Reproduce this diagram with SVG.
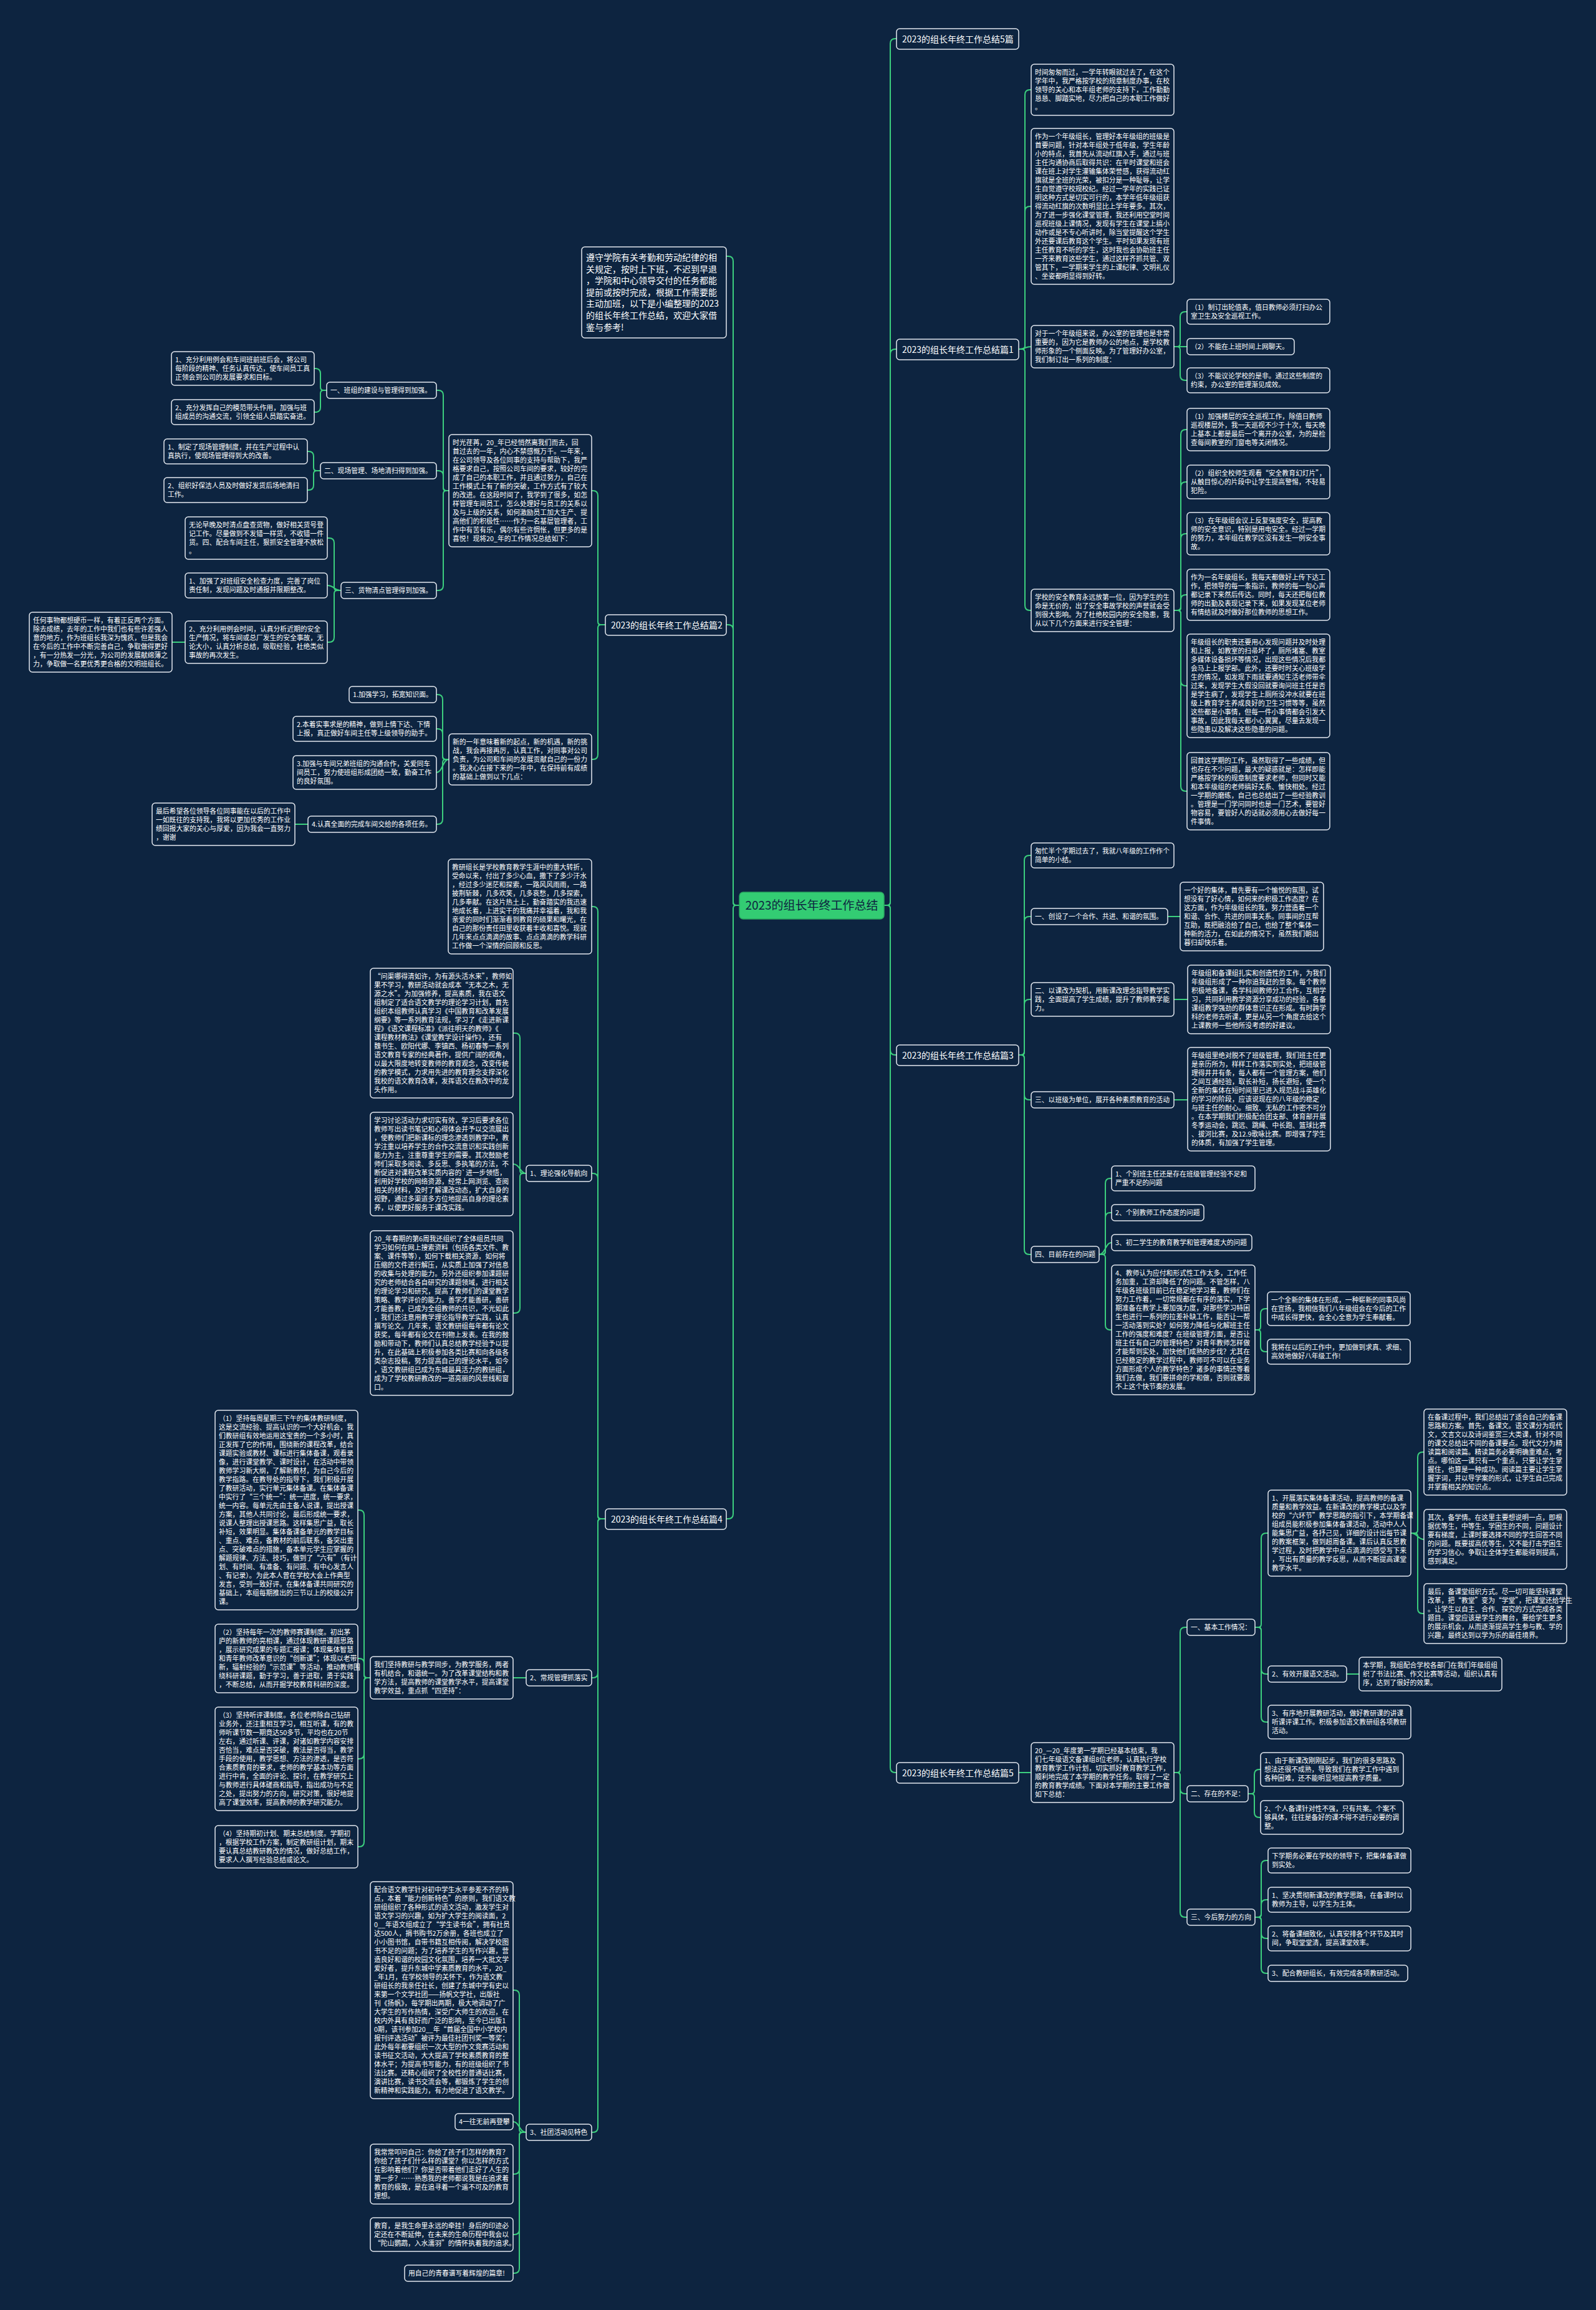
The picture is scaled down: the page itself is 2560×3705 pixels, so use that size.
<svg xmlns="http://www.w3.org/2000/svg" width="2560" height="3705" viewBox="0 0 2560 3705">
<style>
.bg{fill:#0d2440}
.n rect{fill:#0d2440;stroke:#e3e8ef;stroke-width:1.5}
.n text{fill:#ffffff;font-family:"Noto Sans CJK SC","Noto Sans",sans-serif;font-size:10.8px}
.lbl text{font-size:14px}
.c path{fill:none;stroke:#3ccf7e;stroke-width:2}
#center rect{fill:#33cc73;stroke:#2aa860;stroke-width:1.5}
#center text{fill:#0d2440;font-family:"Noto Sans CJK SC","Noto Sans",sans-serif;font-size:19px}
</style>
<rect class="bg" x="0" y="0" width="2560" height="3705"/>
<g class="c" id="connectors">
<path d="M1418 1452 H1423 Q1428 1452 1428 1447 V70 Q1428 62 1436 62 H1438"/>
<path d="M1418 1452 H1423 Q1428 1452 1428 1447 V568 Q1428 560 1436 560 H1438"/>
<path d="M1418 1452 H1423 Q1428 1452 1428 1457 V1684 Q1428 1692 1436 1692 H1438"/>
<path d="M1418 1452 H1423 Q1428 1452 1428 1457 V2835 Q1428 2843 1436 2843 H1438"/>
<path d="M1186 1452 H1181 Q1176 1452 1176 1447 V419 Q1176 411 1168 411 H1165"/>
<path d="M1186 1452 H1181 Q1176 1452 1176 1447 V1010 Q1176 1002 1168 1002 H1165"/>
<path d="M1186 1452 H1181 Q1176 1452 1176 1457 V2428 Q1176 2436 1168 2436 H1165"/>
<path d="M1634 560 H1639 Q1644 560 1644 555 V152 Q1644 144 1652 144 H1654"/>
<path d="M1634 560 H1639 Q1644 560 1644 555 V339 Q1644 331 1652 331 H1654"/>
<path d="M1634 560 C1644 560 1644 556 1654 556"/>
<path d="M1634 560 H1639 Q1644 560 1644 565 V971 Q1644 979 1652 979 H1654"/>
<path d="M1883 556 H1888 Q1893 556 1893 551 V508 Q1893 500 1901 500 H1904"/>
<path d="M1883 556 H1904"/>
<path d="M1883 556 H1888 Q1893 556 1893 561 V602 Q1893 610 1901 610 H1904"/>
<path d="M1883 979 H1889 Q1894 979 1894 974 V697 Q1894 689 1902 689 H1904"/>
<path d="M1883 979 H1889 Q1894 979 1894 974 V781 Q1894 773 1902 773 H1904"/>
<path d="M1883 979 H1889 Q1894 979 1894 974 V864 Q1894 856 1902 856 H1904"/>
<path d="M1883 979 H1889 Q1894 979 1894 974 V962 Q1894 954 1902 954 H1904"/>
<path d="M1883 979 H1889 Q1894 979 1894 984 V1092 Q1894 1100 1902 1100 H1904"/>
<path d="M1883 979 H1889 Q1894 979 1894 984 V1261 Q1894 1269 1902 1269 H1904"/>
<path d="M1634 1692 H1638 Q1643 1692 1643 1687 V1380 Q1643 1372 1651 1372 H1654"/>
<path d="M1634 1692 H1638 Q1643 1692 1643 1687 V1478 Q1643 1470 1651 1470 H1654"/>
<path d="M1634 1692 H1638 Q1643 1692 1643 1687 V1611 Q1643 1603 1651 1603 H1654"/>
<path d="M1634 1692 H1638 Q1643 1692 1643 1697 V1756 Q1643 1764 1651 1764 H1654"/>
<path d="M1634 1692 H1638 Q1643 1692 1643 1697 V2004 Q1643 2012 1651 2012 H1654"/>
<path d="M1873 1470 H1893"/>
<path d="M1883 1603 H1905"/>
<path d="M1883 1764 H1905"/>
<path d="M1763 2012 H1768 Q1773 2012 1773 2007 V1898 Q1773 1890 1781 1890 H1783"/>
<path d="M1763 2012 H1768 Q1773 2012 1773 2007 V1953 Q1773 1945 1781 1945 H1783"/>
<path d="M1763 2012 C1773 2012 1773 1993 1783 1993"/>
<path d="M1763 2012 H1768 Q1773 2012 1773 2017 V2125 Q1773 2133 1781 2133 H1783"/>
<path d="M2013 2133 H2017 Q2022 2133 2022 2128 V2107 Q2022 2099 2030 2099 H2033"/>
<path d="M2013 2133 H2017 Q2022 2133 2022 2138 V2160 Q2022 2168 2030 2168 H2033"/>
<path d="M1634 2843 H1654"/>
<path d="M1883 2843 H1888 Q1893 2843 1893 2838 V2618 Q1893 2610 1901 2610 H1904"/>
<path d="M1883 2843 H1888 Q1893 2843 1893 2848 V2869 Q1893 2877 1901 2877 H1904"/>
<path d="M1883 2843 H1888 Q1893 2843 1893 2848 V3067 Q1893 3075 1901 3075 H1904"/>
<path d="M2013 2610 H2018 Q2023 2610 2023 2605 V2467 Q2023 2459 2031 2459 H2034"/>
<path d="M2013 2610 H2018 Q2023 2610 2023 2615 V2677 Q2023 2685 2031 2685 H2034"/>
<path d="M2013 2610 H2018 Q2023 2610 2023 2615 V2754 Q2023 2762 2031 2762 H2034"/>
<path d="M2263 2459 H2269 Q2274 2459 2274 2454 V2337 Q2274 2329 2282 2329 H2284"/>
<path d="M2263 2459 C2274 2459 2274 2469 2284 2469"/>
<path d="M2263 2459 H2269 Q2274 2459 2274 2464 V2580 Q2274 2588 2282 2588 H2284"/>
<path d="M2160 2685 H2180"/>
<path d="M2002 2877 H2007 Q2012 2877 2012 2872 V2846 Q2012 2838 2020 2838 H2022"/>
<path d="M2002 2877 H2007 Q2012 2877 2012 2882 V2907 Q2012 2915 2020 2915 H2022"/>
<path d="M2013 3075 H2018 Q2023 3075 2023 3070 V2992 Q2023 2984 2031 2984 H2034"/>
<path d="M2013 3075 H2018 Q2023 3075 2023 3070 V3055 Q2023 3047 2031 3047 H2034"/>
<path d="M2013 3075 H2018 Q2023 3075 2023 3080 V3101 Q2023 3109 2031 3109 H2034"/>
<path d="M2013 3075 H2018 Q2023 3075 2023 3080 V3157 Q2023 3165 2031 3165 H2034"/>
<path d="M971 1002 H964 Q959 1002 959 997 V795 Q959 787 951 787 H949"/>
<path d="M971 1002 H964 Q959 1002 959 1007 V1210 Q959 1218 951 1218 H949"/>
<path d="M720 787 H716 Q711 787 711 782 V634 Q711 626 703 626 H700"/>
<path d="M720 787 H716 Q711 787 711 782 V763 Q711 755 703 755 H700"/>
<path d="M720 787 H716 Q711 787 711 792 V939 Q711 947 703 947 H700"/>
<path d="M524 626 H519 Q514 626 514 621 V599 Q514 591 506 591 H504"/>
<path d="M524 626 H519 Q514 626 514 631 V653 Q514 661 506 661 H504"/>
<path d="M514 755 H508 Q503 755 503 750 V732 Q503 724 495 724 H493"/>
<path d="M514 755 H508 Q503 755 503 760 V778 Q503 786 495 786 H493"/>
<path d="M547 947 H541 Q536 947 536 942 V871 Q536 863 528 863 H525"/>
<path d="M547 947 C536 947 536 939 525 939"/>
<path d="M547 947 H541 Q536 947 536 952 V1022 Q536 1030 528 1030 H525"/>
<path d="M297 1030 H276"/>
<path d="M720 1218 H715 Q710 1218 710 1213 V1122 Q710 1114 702 1114 H700"/>
<path d="M720 1218 H715 Q710 1218 710 1213 V1177 Q710 1169 702 1169 H700"/>
<path d="M720 1218 C710 1218 710 1239 700 1239"/>
<path d="M720 1218 H715 Q710 1218 710 1223 V1314 Q710 1322 702 1322 H700"/>
<path d="M494 1322 H473"/>
<path d="M971 2436 H964 Q959 2436 959 2431 V1462 Q959 1454 951 1454 H949"/>
<path d="M971 2436 H964 Q959 2436 959 2431 V1890 Q959 1882 951 1882 H949"/>
<path d="M971 2436 H964 Q959 2436 959 2441 V2683 Q959 2691 951 2691 H949"/>
<path d="M971 2436 H964 Q959 2436 959 2441 V3412 Q959 3420 951 3420 H949"/>
<path d="M844 1882 H839 Q834 1882 834 1877 V1665 Q834 1657 826 1657 H823"/>
<path d="M844 1882 C834 1882 834 1867 823 1867"/>
<path d="M844 1882 H839 Q834 1882 834 1887 V2098 Q834 2106 826 2106 H823"/>
<path d="M844 2691 H823"/>
<path d="M594 2691 H589 Q584 2691 584 2686 V2430 Q584 2422 576 2422 H574"/>
<path d="M594 2691 H589 Q584 2691 584 2686 V2668 Q584 2660 576 2660 H574"/>
<path d="M594 2691 H589 Q584 2691 584 2696 V2813 Q584 2821 576 2821 H574"/>
<path d="M594 2691 H589 Q584 2691 584 2696 V2954 Q584 2962 576 2962 H574"/>
<path d="M844 3420 H838 Q833 3420 833 3415 V3200 Q833 3192 825 3192 H823"/>
<path d="M844 3420 C833 3420 833 3403 823 3403"/>
<path d="M844 3420 H838 Q833 3420 833 3425 V3479 Q833 3487 825 3487 H823"/>
<path d="M844 3420 H838 Q833 3420 833 3425 V3576 Q833 3584 825 3584 H823"/>
<path d="M844 3420 H838 Q833 3420 833 3425 V3638 Q833 3646 825 3646 H823"/>
</g>

<g id="center"><rect x="1186" y="1431" width="232" height="43" rx="6"/><text x="1302" y="1459" text-anchor="middle">2023的组长年终工作总结</text></g>

<g class="n" id="intro"><rect x="933" y="396" width="232" height="146" rx="5"/><text x="940" y="418" style="font-size:14px"><tspan x="940">遵守学院有关考勤和劳动纪律的相</tspan><tspan x="940" dy="18.6">关规定，按时上下班，不迟到早退</tspan><tspan x="940" dy="18.6">，学院和中心领导交付的任务都能</tspan><tspan x="940" dy="18.6">提前或按时完成，根据工作需要能</tspan><tspan x="940" dy="18.6">主动加班，以下是小编整理的2023</tspan><tspan x="940" dy="18.6">的组长年终工作总结，欢迎大家借</tspan><tspan x="940" dy="18.6">鉴与参考!</tspan></text></g>

<g class="n lbl" id="r_title5"><rect x="1438" y="46" width="196" height="33" rx="5"/><text x="1447" y="67.5">2023的组长年终工作总结5篇</text></g>
<g class="n lbl" id="r_p1"><rect x="1438" y="544" width="196" height="33" rx="5"/><text x="1447" y="565.5">2023的组长年终工作总结篇1</text></g>
<g class="n lbl" id="r_p3"><rect x="1438" y="1676" width="196" height="33" rx="5"/><text x="1447" y="1697.5">2023的组长年终工作总结篇3</text></g>
<g class="n lbl" id="r_p5"><rect x="1438" y="2827" width="196" height="33" rx="5"/><text x="1447" y="2848.5">2023的组长年终工作总结篇5</text></g>
<g class="n lbl" id="l_p2"><rect x="971" y="986" width="194" height="33" rx="5"/><text x="980" y="1007.5">2023的组长年终工作总结篇2</text></g>
<g class="n lbl" id="l_p4"><rect x="971" y="2420" width="194" height="33" rx="5"/><text x="980" y="2441.5">2023的组长年终工作总结篇4</text></g>

<g class="n" id="a1"><rect x="1654" y="103" width="229" height="82" rx="5"/><text x="1660" y="120"><tspan x="1660">时间匆匆而过，一学年转眼就过去了，在这个</tspan><tspan x="1660" dy="14">学年中，我严格按学校的规章制度办事，在校</tspan><tspan x="1660" dy="14">领导的关心和本年组老师的支持下，工作勤勤</tspan><tspan x="1660" dy="14">恳恳、脚踏实地，尽力把自己的本职工作做好</tspan><tspan x="1660" dy="14">。</tspan></text></g>
<g class="n" id="a2"><rect x="1654" y="206" width="229" height="250" rx="5"/><text x="1660" y="223"><tspan x="1660">作为一个年级组长，管理好本年级组的班级是</tspan><tspan x="1660" dy="14">首要问题，针对本年组处于低年级，学生年龄</tspan><tspan x="1660" dy="14">小的特点，我首先从流动红旗入手，通过与班</tspan><tspan x="1660" dy="14">主任沟通协商后取得共识：在平时课堂和班会</tspan><tspan x="1660" dy="14">课在班上对学生灌输集体荣誉感，获得流动红</tspan><tspan x="1660" dy="14">旗就是全班的光荣，被扣分是一种耻辱，让学</tspan><tspan x="1660" dy="14">生自觉遵守校规校纪。经过一学年的实践已证</tspan><tspan x="1660" dy="14">明这种方式是切实可行的，本学年低年级组获</tspan><tspan x="1660" dy="14">得流动红旗的次数明显比上学年要多。其次，</tspan><tspan x="1660" dy="14">为了进一步强化课堂管理，我还利用空堂时间</tspan><tspan x="1660" dy="14">巡视班级上课情况，发现有学生在课堂上搞小</tspan><tspan x="1660" dy="14">动作或是不专心听讲时，除当堂提醒这个学生</tspan><tspan x="1660" dy="14">外还要课后教育这个学生。平时如果发现有班</tspan><tspan x="1660" dy="14">主任教育不听的学生，这时我也会协助班主任</tspan><tspan x="1660" dy="14">一齐来教育这些学生，通过这样齐抓共管、双</tspan><tspan x="1660" dy="14">管其下，一学期来学生的上课纪律、文明礼仪</tspan><tspan x="1660" dy="14">、坐姿都明显得到好转。</tspan></text></g>
<g class="n" id="b"><rect x="1654" y="522" width="229" height="68" rx="5"/><text x="1660" y="539"><tspan x="1660">对于一个年级组来说，办公室的管理也是非常</tspan><tspan x="1660" dy="14">重要的，因为它是教师办公的地点，是学校教</tspan><tspan x="1660" dy="14">师形象的一个侧面反映。为了管理好办公室，</tspan><tspan x="1660" dy="14">我们制订出一系列的制度：</tspan></text></g>
<g class="n" id="b1"><rect x="1904" y="480" width="229" height="40" rx="5"/><text x="1910" y="497"><tspan x="1910">（1）制订出轮值表，值日教师必须打扫办公</tspan><tspan x="1910" dy="14">室卫生及安全巡视工作。</tspan></text></g>
<g class="n" id="b2"><rect x="1904" y="543" width="172" height="26" rx="5"/><text x="1910" y="560">（2）不能在上班时间上网聊天。</text></g>
<g class="n" id="b3"><rect x="1904" y="590" width="229" height="40" rx="5"/><text x="1910" y="607"><tspan x="1910">（3）不能议论学校的是非。通过这些制度的</tspan><tspan x="1910" dy="14">约束，办公室的管理渐见成效。</tspan></text></g>
<g class="n" id="d"><rect x="1654" y="945" width="229" height="68" rx="5"/><text x="1660" y="962"><tspan x="1660">学校的安全教育永远放第一位，因为学生的生</tspan><tspan x="1660" dy="14">命是无价的，出了安全事故学校的声誉就会受</tspan><tspan x="1660" dy="14">到很大影响。为了杜绝校园内的安全隐患，我</tspan><tspan x="1660" dy="14">从以下几个方面来进行安全管理：</tspan></text></g>
<g class="n" id="d1"><rect x="1904" y="655" width="229" height="68" rx="5"/><text x="1910" y="672"><tspan x="1910">（1）加强楼层的安全巡视工作，除值日教师</tspan><tspan x="1910" dy="14">巡视楼层外，我一天巡视不少于十次，每天晚</tspan><tspan x="1910" dy="14">上基本上都是最后一个离开办公室，为的是检</tspan><tspan x="1910" dy="14">查每间教室的门窗电等关闭情况。</tspan></text></g>
<g class="n" id="d2"><rect x="1904" y="746" width="229" height="54" rx="5"/><text x="1910" y="763"><tspan x="1910">（2）组织全校师生观看“安全教育幻灯片”，</tspan><tspan x="1910" dy="14">从触目惊心的片段中让学生提高警惕，不轻易</tspan><tspan x="1910" dy="14">犯险。</tspan></text></g>
<g class="n" id="d3"><rect x="1904" y="822" width="229" height="68" rx="5"/><text x="1910" y="839"><tspan x="1910">（3）在年级组会议上反复强度安全，提高教</tspan><tspan x="1910" dy="14">师的安全意识，特别是用电安全。经过一学期</tspan><tspan x="1910" dy="14">的努力，本年组在教学区没有发生一例安全事</tspan><tspan x="1910" dy="14">故。</tspan></text></g>
<g class="n" id="d4"><rect x="1904" y="913" width="229" height="82" rx="5"/><text x="1910" y="930"><tspan x="1910">作为一名年级组长，我每天都做好上传下达工</tspan><tspan x="1910" dy="14">作，把领导的每一条指示，教师的每一句心声</tspan><tspan x="1910" dy="14">都记录下来然后传达。同时，每天还把每位教</tspan><tspan x="1910" dy="14">师的出勤及表现记录下来，如果发现某位老师</tspan><tspan x="1910" dy="14">有情结就及时做好那位教师的思想工作。</tspan></text></g>
<g class="n" id="d5"><rect x="1904" y="1017" width="229" height="166" rx="5"/><text x="1910" y="1034"><tspan x="1910">年级组长的职责还要用心发现问题并及时处理</tspan><tspan x="1910" dy="14">和上报，如教室的扫帚坏了，厕所堵塞、教室</tspan><tspan x="1910" dy="14">多媒体设备损坏等情况，出现这些情况后我都</tspan><tspan x="1910" dy="14">会马上上报学部。此外，还要时时关心班级学</tspan><tspan x="1910" dy="14">生的情况，如发现下雨就要通知生活老师带伞</tspan><tspan x="1910" dy="14">过来，发现学生大假没回就要询问班主任是否</tspan><tspan x="1910" dy="14">是学生病了，发现学生上厕所没冲水就要在班</tspan><tspan x="1910" dy="14">级上教育学生养成良好的卫生习惯等等，虽然</tspan><tspan x="1910" dy="14">这些都是小事情，但每一件小事情都会引发大</tspan><tspan x="1910" dy="14">事故，因此我每天都小心翼翼，尽量去发现一</tspan><tspan x="1910" dy="14">些隐患以及解决这些隐患的问题。</tspan></text></g>
<g class="n" id="d6"><rect x="1904" y="1207" width="229" height="124" rx="5"/><text x="1910" y="1224"><tspan x="1910">回首这学期的工作，虽然取得了一些成绩，但</tspan><tspan x="1910" dy="14">也存在不少问题，最大的疑惑就是：怎样即能</tspan><tspan x="1910" dy="14">严格按学校的规章制度要求老师，但同时又能</tspan><tspan x="1910" dy="14">和本年级组的老师搞好关系、愉快相处。经过</tspan><tspan x="1910" dy="14">一学期的磨练，自己也总结出了一些经验教训</tspan><tspan x="1910" dy="14">。管理是一门学问同时也是一门艺术，要管好</tspan><tspan x="1910" dy="14">物容易，要管好人的话就必须用心去做好每一</tspan><tspan x="1910" dy="14">件事情。</tspan></text></g>

<g class="n" id="e0"><rect x="1654" y="1352" width="229" height="40" rx="5"/><text x="1660" y="1369"><tspan x="1660">匆忙半个学期过去了，我就八年级的工作作个</tspan><tspan x="1660" dy="14">简单的小结。</tspan></text></g>
<g class="n" id="e1"><rect x="1654" y="1457" width="219" height="26" rx="5"/><text x="1660" y="1474">一、创设了一个合作、共进、和谐的氛围。</text></g>
<g class="n" id="e1a"><rect x="1893" y="1415" width="230" height="110" rx="5"/><text x="1899" y="1432"><tspan x="1899">一个好的集体，首先要有一个愉悦的氛围，试</tspan><tspan x="1899" dy="14">想没有了好心情，如何来的积极工作态度？在</tspan><tspan x="1899" dy="14">这方面，作为年级组长的我，努力营造着一个</tspan><tspan x="1899" dy="14">和谐、合作、共进的同事关系。同事间的互帮</tspan><tspan x="1899" dy="14">互助，既把融洽给了自己，也给了整个集体一</tspan><tspan x="1899" dy="14">种新的活力，在如此的情况下，虽然我们朝出</tspan><tspan x="1899" dy="14">暮归却快乐着。</tspan></text></g>
<g class="n" id="e2"><rect x="1654" y="1576" width="229" height="54" rx="5"/><text x="1660" y="1593"><tspan x="1660">二、以课改为契机，用新课改理念指导教学实</tspan><tspan x="1660" dy="14">践，全面提高了学生成绩，提升了教师教学能</tspan><tspan x="1660" dy="14">力。</tspan></text></g>
<g class="n" id="e2a"><rect x="1905" y="1548" width="229" height="110" rx="5"/><text x="1911" y="1565"><tspan x="1911">年级组和备课组扎实和创造性的工作，为我们</tspan><tspan x="1911" dy="14">年级组形成了一种你追我赶的景象。每个教师</tspan><tspan x="1911" dy="14">积极地备课，各学科间教师分工合作，互相学</tspan><tspan x="1911" dy="14">习，共同利用教学资源分享成功的经验，各备</tspan><tspan x="1911" dy="14">课组教学强劲的群体意识正在形成。有时跨学</tspan><tspan x="1911" dy="14">科的老师去听课，更是从另一个角度去给这个</tspan><tspan x="1911" dy="14">上课教师一些他所没考虑的好建议。</tspan></text></g>
<g class="n" id="e3"><rect x="1654" y="1751" width="229" height="26" rx="5"/><text x="1660" y="1768">三、以班级为单位，展开各种素质教育的活动</text></g>
<g class="n" id="e3a"><rect x="1905" y="1680" width="229" height="166" rx="5"/><text x="1911" y="1697"><tspan x="1911">年级组里绝对脱不了班级管理，我们班主任更</tspan><tspan x="1911" dy="14">是亲历所为，样样工作落实到实处，把班级管</tspan><tspan x="1911" dy="14">理得井井有条，每人都有一个管理方案，他们</tspan><tspan x="1911" dy="14">之间互通经验，取长补短，扬长避短，使一个</tspan><tspan x="1911" dy="14">全新的集体在短时间里已进入规范战斗英雄化</tspan><tspan x="1911" dy="14">的学习的阶段，应该说现在的八年级的稳定</tspan><tspan x="1911" dy="14">与班主任的耐心。细致、无私的工作密不可分</tspan><tspan x="1911" dy="14">。在本学期我们积极配合团支部、体育部开展</tspan><tspan x="1911" dy="14">冬季运动会，跳远、跳绳、中长跑、篮球比赛</tspan><tspan x="1911" dy="14">、拔河比赛，及12.9歌咏比赛。即增强了学生</tspan><tspan x="1911" dy="14">的体质，有加强了学生管理。</tspan></text></g>
<g class="n" id="e4"><rect x="1654" y="1999" width="109" height="26" rx="5"/><text x="1660" y="2016">四、目前存在的问题</text></g>
<g class="n" id="e4a"><rect x="1783" y="1870" width="230" height="40" rx="5"/><text x="1789" y="1887"><tspan x="1789">1、个别班主任还是存在班级管理经验不足和</tspan><tspan x="1789" dy="14">严重不足的问题</tspan></text></g>
<g class="n" id="e4b"><rect x="1783" y="1932" width="148" height="26" rx="5"/><text x="1789" y="1949">2、个别教师工作态度的问题</text></g>
<g class="n" id="e4c"><rect x="1783" y="1980" width="225" height="26" rx="5"/><text x="1789" y="1997">3、初二学生的教育教学和管理难度大的问题</text></g>
<g class="n" id="e4d"><rect x="1783" y="2029" width="230" height="208" rx="5"/><text x="1789" y="2046"><tspan x="1789">4、教师认为应付和形式性工作太多，工作任</tspan><tspan x="1789" dy="14">务加重，工资却降低了的问题。不管怎样，八</tspan><tspan x="1789" dy="14">年级各班级目前已在稳定地学习着，教师们在</tspan><tspan x="1789" dy="14">努力工作着，一切常规都在有序的落实，下学</tspan><tspan x="1789" dy="14">期准备在教学上要加强力度，对那些学习特困</tspan><tspan x="1789" dy="14">生也进行一系列的拉差补缺工作，能否让一帮</tspan><tspan x="1789" dy="14">一活动落到实处？如何努力降低与化解班主任</tspan><tspan x="1789" dy="14">工作的强度和难度？在班级管理方面，是否让</tspan><tspan x="1789" dy="14">班主任有自己的管理特色？对青年教师怎样做</tspan><tspan x="1789" dy="14">才能帮到实处，加快他们成熟的步伐？尤其在</tspan><tspan x="1789" dy="14">已经稳定的教学过程中，教师可不可以在业务</tspan><tspan x="1789" dy="14">方面形成个人的教学特色？诸多的事情还等着</tspan><tspan x="1789" dy="14">我们去做，我们要拼命的学和做，否则就要跟</tspan><tspan x="1789" dy="14">不上这个快节奏的发展。</tspan></text></g>
<g class="n" id="e4d1"><rect x="2033" y="2072" width="229" height="54" rx="5"/><text x="2039" y="2089"><tspan x="2039">一个全新的集体在形成，一种崭新的同事风尚</tspan><tspan x="2039" dy="14">在宣扬，我相信我们八年级组会在今后的工作</tspan><tspan x="2039" dy="14">中成长得更快，会全心全意为学生奉献着。</tspan></text></g>
<g class="n" id="e4d2"><rect x="2033" y="2148" width="229" height="40" rx="5"/><text x="2039" y="2165"><tspan x="2039">我将在以后的工作中，更加做到求真、求细、</tspan><tspan x="2039" dy="14">高效地做好八年级工作!</tspan></text></g>

<g class="n" id="f"><rect x="1654" y="2795" width="229" height="96" rx="5"/><text x="1660" y="2812"><tspan x="1660">20_—20_年度第一学期已经基本结束，我</tspan><tspan x="1660" dy="14">们七年级语文备课组8位老师，认真执行学校</tspan><tspan x="1660" dy="14">教育教学工作计划，切实抓好教育教学工作，</tspan><tspan x="1660" dy="14">顺利地完成了本学期的教学任务。取得了一定</tspan><tspan x="1660" dy="14">的教育教学成绩。下面对本学期的主要工作做</tspan><tspan x="1660" dy="14">如下总结：</tspan></text></g>
<g class="n" id="g1"><rect x="1904" y="2597" width="109" height="26" rx="5"/><text x="1910" y="2614">一、基本工作情况：</text></g>
<g class="n" id="g1a"><rect x="2034" y="2390" width="229" height="138" rx="5"/><text x="2040" y="2407"><tspan x="2040">1、开展落实集体备课活动，提高教师的备课</tspan><tspan x="2040" dy="14">质量和教学效益。在新课改的教学模式以及学</tspan><tspan x="2040" dy="14">校的“六环节”教学思路的指引下，本学期备课</tspan><tspan x="2040" dy="14">组成员能积极参加集体备课活动，活动中人人</tspan><tspan x="2040" dy="14">能集思广益，各抒己见，详细的设计出每节课</tspan><tspan x="2040" dy="14">的教案框架，做到超周备课。课后认真反思教</tspan><tspan x="2040" dy="14">学过程，及时把教学中点点滴滴的感受写下来</tspan><tspan x="2040" dy="14">，写出有质量的教学反思，从而不断提高课堂</tspan><tspan x="2040" dy="14">教学水平。</tspan></text></g>
<g class="n" id="h1"><rect x="2284" y="2260" width="229" height="138" rx="5"/><text x="2290" y="2277"><tspan x="2290">在备课过程中，我们总结出了适合自己的备课</tspan><tspan x="2290" dy="14">思路和方案。首先，备课文。语文课分为现代</tspan><tspan x="2290" dy="14">文，文言文以及诗词鉴赏三大类课，针对不同</tspan><tspan x="2290" dy="14">的课文总结出不同的备课要点。现代文分为精</tspan><tspan x="2290" dy="14">读篇和阅读篇。精读篇务必要明确重难点，考</tspan><tspan x="2290" dy="14">点。哪怕这一课只有一个重点，只要让学生掌</tspan><tspan x="2290" dy="14">握住，也算是一种成功。阅读篇主要让学生掌</tspan><tspan x="2290" dy="14">握字词，并以导学案的形式，让学生自己完成</tspan><tspan x="2290" dy="14">并掌握相关的知识点。</tspan></text></g>
<g class="n" id="h2"><rect x="2284" y="2421" width="229" height="96" rx="5"/><text x="2290" y="2438"><tspan x="2290">其次，备学情。在这里主要想说明一点，即根</tspan><tspan x="2290" dy="14">据优等生，中等生，学困生的不同，问题设计</tspan><tspan x="2290" dy="14">要有梯度，上课时要选择不同的学生回答不同</tspan><tspan x="2290" dy="14">的问题。既要拔高优等生，又不能打击学困生</tspan><tspan x="2290" dy="14">的学习信心。争取让全体学生都能得到提高，</tspan><tspan x="2290" dy="14">感到满足。</tspan></text></g>
<g class="n" id="h3"><rect x="2284" y="2540" width="229" height="96" rx="5"/><text x="2290" y="2557"><tspan x="2290">最后，备课堂组织方式。尽一切可能坚持课堂</tspan><tspan x="2290" dy="14">改革，把“教堂”变为“学堂”，把课堂还给学生</tspan><tspan x="2290" dy="14">。让学生以自主、合作、探究的方式完成各类</tspan><tspan x="2290" dy="14">题目。课堂应该是学生的舞台，要给学生更多</tspan><tspan x="2290" dy="14">的展示机会，从而逐渐提高学生参与教、学的</tspan><tspan x="2290" dy="14">兴趣，最终达到以学为乐的最佳境界。</tspan></text></g>
<g class="n" id="g1b"><rect x="2034" y="2672" width="126" height="26" rx="5"/><text x="2040" y="2689">2、有效开展语文活动。</text></g>
<g class="n" id="g1b1"><rect x="2180" y="2658" width="229" height="54" rx="5"/><text x="2186" y="2675"><tspan x="2186">本学期，我组配合学校各部门在我们年级组组</tspan><tspan x="2186" dy="14">织了书法比赛、作文比赛等活动，组织认真有</tspan><tspan x="2186" dy="14">序，达到了很好的效果。</tspan></text></g>
<g class="n" id="g1c"><rect x="2034" y="2735" width="229" height="54" rx="5"/><text x="2040" y="2752"><tspan x="2040">3、有序地开展教研活动，做好教研课的讲课</tspan><tspan x="2040" dy="14">听课评课工作。积极参加语文教研组各项教研</tspan><tspan x="2040" dy="14">活动。</tspan></text></g>
<g class="n" id="g2"><rect x="1904" y="2864" width="98" height="26" rx="5"/><text x="1910" y="2881">二、存在的不足：</text></g>
<g class="n" id="g2a"><rect x="2022" y="2811" width="229" height="54" rx="5"/><text x="2028" y="2828"><tspan x="2028">1、由于新课改刚刚起步，我们的很多思路及</tspan><tspan x="2028" dy="14">想法还很不成熟，导致我们在教学工作中遇到</tspan><tspan x="2028" dy="14">各种困难，还不能明显地提高教学质量。</tspan></text></g>
<g class="n" id="g2b"><rect x="2022" y="2888" width="229" height="54" rx="5"/><text x="2028" y="2905"><tspan x="2028">2、个人备课针对性不强，只有共案。个案不</tspan><tspan x="2028" dy="14">够具体，往往是备好的课不得不进行必要的调</tspan><tspan x="2028" dy="14">整。</tspan></text></g>
<g class="n" id="g3"><rect x="1904" y="3062" width="109" height="26" rx="5"/><text x="1910" y="3079">三、今后努力的方向</text></g>
<g class="n" id="g3a"><rect x="2034" y="2964" width="229" height="40" rx="5"/><text x="2040" y="2981"><tspan x="2040">下学期务必要在学校的领导下，把集体备课做</tspan><tspan x="2040" dy="14">到实处。</tspan></text></g>
<g class="n" id="g3b"><rect x="2034" y="3027" width="229" height="40" rx="5"/><text x="2040" y="3044"><tspan x="2040">1、坚决贯彻新课改的教学思路，在备课时以</tspan><tspan x="2040" dy="14">教师为主导，以学生为主体。</tspan></text></g>
<g class="n" id="g3c"><rect x="2034" y="3089" width="229" height="40" rx="5"/><text x="2040" y="3106"><tspan x="2040">2、将备课细致化，认真安排各个环节及其时</tspan><tspan x="2040" dy="14">间，争取堂堂清，提高课堂效率。</tspan></text></g>
<g class="n" id="g3d"><rect x="2034" y="3152" width="224" height="26" rx="5"/><text x="2040" y="3169">3、配合教研组长，有效完成各项教研活动。</text></g>

<g class="n" id="i1"><rect x="720" y="697" width="229" height="180" rx="5"/><text x="726" y="714"><tspan x="726">时光荏苒，20_年已经悄然离我们而去，回</tspan><tspan x="726" dy="14">首过去的一年，内心不禁感慨万千。一年来，</tspan><tspan x="726" dy="14">在公司领导及各位同事的支持与帮助下，我严</tspan><tspan x="726" dy="14">格要求自己，按照公司车间的要求，较好的完</tspan><tspan x="726" dy="14">成了自己的本职工作，并且通过努力，自己在</tspan><tspan x="726" dy="14">工作模式上有了新的突破，工作方式有了较大</tspan><tspan x="726" dy="14">的改进。在这段时间了，我学到了很多，如怎</tspan><tspan x="726" dy="14">样管理车间员工，怎么处理好与员工的关系以</tspan><tspan x="726" dy="14">及与上级的关系，如何激励员工加大生产、提</tspan><tspan x="726" dy="14">高他们的积极性……作为一名基层管理者，工</tspan><tspan x="726" dy="14">作中有苦有乐，偶尔有些许惆怅，但更多的是</tspan><tspan x="726" dy="14">喜悦！现将20_年的工作情况总结如下：</tspan></text></g>
<g class="n" id="j1"><rect x="524" y="613" width="176" height="26" rx="5"/><text x="530" y="630">一、班组的建设与管理得到加强。</text></g>
<g class="n" id="j1a"><rect x="275" y="564" width="229" height="54" rx="5"/><text x="281" y="581"><tspan x="281">1、充分利用例会和车间班前班后会，将公司</tspan><tspan x="281" dy="14">每阶段的精神、任务认真传达，使车间员工真</tspan><tspan x="281" dy="14">正领会到公司的发展要求和目标。</tspan></text></g>
<g class="n" id="j1b"><rect x="275" y="641" width="229" height="40" rx="5"/><text x="281" y="658"><tspan x="281">2、充分发挥自己的模范带头作用，加强与班</tspan><tspan x="281" dy="14">组成员的沟通交流，引领全组人员踏实奋进。</tspan></text></g>
<g class="n" id="j2"><rect x="514" y="742" width="186" height="26" rx="5"/><text x="520" y="759">二、现场管理、场地清扫得到加强。</text></g>
<g class="n" id="j2a"><rect x="263" y="704" width="230" height="40" rx="5"/><text x="269" y="721"><tspan x="269">1、制定了现场管理制度，并在生产过程中认</tspan><tspan x="269" dy="14">真执行，使现场管理得到大的改善。</tspan></text></g>
<g class="n" id="j2b"><rect x="263" y="766" width="230" height="40" rx="5"/><text x="269" y="783"><tspan x="269">2、组织好保洁人员及时做好发货后场地清扫</tspan><tspan x="269" dy="14">工作。</tspan></text></g>
<g class="n" id="j3"><rect x="547" y="934" width="153" height="26" rx="5"/><text x="553" y="951">三、货物清点管理得到加强。</text></g>
<g class="n" id="j3a"><rect x="297" y="829" width="228" height="68" rx="5"/><text x="303" y="846"><tspan x="303">无论早晚及时清点盘查货物，做好相关货号登</tspan><tspan x="303" dy="14">记工作。尽量做到不发错一样货，不收错一件</tspan><tspan x="303" dy="14">货。四、配合车间主任，狠抓安全管理不放松</tspan><tspan x="303" dy="14">。</tspan></text></g>
<g class="n" id="j3b"><rect x="297" y="919" width="228" height="40" rx="5"/><text x="303" y="936"><tspan x="303">1、加强了对班组安全检查力度，完善了岗位</tspan><tspan x="303" dy="14">责任制，发现问题及时通报并限期整改。</tspan></text></g>
<g class="n" id="j3c"><rect x="297" y="996" width="228" height="68" rx="5"/><text x="303" y="1013"><tspan x="303">2、充分利用例会时间，认真分析近期的安全</tspan><tspan x="303" dy="14">生产情况，将车间或总厂发生的安全事故，无</tspan><tspan x="303" dy="14">论大小，认真分析总结，吸取经验，杜绝类似</tspan><tspan x="303" dy="14">事故的再次发生。</tspan></text></g>
<g class="n" id="j3c1"><rect x="47" y="982" width="229" height="96" rx="5"/><text x="53" y="999"><tspan x="53">任何事物都想硬币一样，有着正反两个方面。</tspan><tspan x="53" dy="14">除去成绩，去年的工作中我们也有些许差强人</tspan><tspan x="53" dy="14">意的地方，作为班组长我深为愧疚，但是我会</tspan><tspan x="53" dy="14">在今后的工作中不断完善自己，争取做得更好</tspan><tspan x="53" dy="14">，有一分热发一分光，为公司的发展献绵薄之</tspan><tspan x="53" dy="14">力，争取做一名更优秀更合格的文明班组长。</tspan></text></g>
<g class="n" id="i2"><rect x="720" y="1177" width="229" height="82" rx="5"/><text x="726" y="1194"><tspan x="726">新的一年意味着新的起点，新的机遇，新的挑</tspan><tspan x="726" dy="14">战，我会再接再厉，认真工作，对同事对公司</tspan><tspan x="726" dy="14">负责，为公司和车间的发展贡献自己的一份力</tspan><tspan x="726" dy="14">。我决心在接下来的一年中，在保持前有成绩</tspan><tspan x="726" dy="14">的基础上做到以下几点：</tspan></text></g>
<g class="n" id="k1"><rect x="560" y="1101" width="140" height="26" rx="5"/><text x="566" y="1118">1.加强学习，拓宽知识面。</text></g>
<g class="n" id="k2"><rect x="470" y="1149" width="230" height="40" rx="5"/><text x="476" y="1166"><tspan x="476">2.本着实事求是的精神，做到上情下达、下情</tspan><tspan x="476" dy="14">上报，真正做好车间主任等上级领导的助手。</tspan></text></g>
<g class="n" id="k3"><rect x="470" y="1212" width="230" height="54" rx="5"/><text x="476" y="1229"><tspan x="476">3.加强与车间兄弟班组的沟通合作，关爱同车</tspan><tspan x="476" dy="14">间员工，努力使班组形成团结一致，勤奋工作</tspan><tspan x="476" dy="14">的良好氛围。</tspan></text></g>
<g class="n" id="k4"><rect x="494" y="1309" width="206" height="26" rx="5"/><text x="500" y="1326">4.认真全面的完成车间交给的各项任务。</text></g>
<g class="n" id="k4a"><rect x="244" y="1288" width="229" height="68" rx="5"/><text x="250" y="1305"><tspan x="250">最后希望各位领导各位同事能在以后的工作中</tspan><tspan x="250" dy="14">一如既往的支持我，我将以更加优秀的工作业</tspan><tspan x="250" dy="14">绩回报大家的关心与厚爱，因为我会一直努力</tspan><tspan x="250" dy="14">，谢谢</tspan></text></g>

<g class="n" id="m0"><rect x="719" y="1378" width="230" height="152" rx="5"/><text x="725" y="1395"><tspan x="725">教研组长是学校教育教学生涯中的重大转折，</tspan><tspan x="725" dy="14">受命以来，付出了多少心血，撒下了多少汗水</tspan><tspan x="725" dy="14">，经过多少迷茫和探索，一路风风雨雨，一路</tspan><tspan x="725" dy="14">披荆斩棘，几多欢笑，几多哀愁，几多探索，</tspan><tspan x="725" dy="14">几多奉献。在这片热土上，勤奋踏实的我迅速</tspan><tspan x="725" dy="14">地成长着，上进实干的我痛并幸福着，我和我</tspan><tspan x="725" dy="14">亲爱的同时们渐渐看到教育的硕果和曙光，在</tspan><tspan x="725" dy="14">自己的那份责任田里收获着丰收和喜悦。现就</tspan><tspan x="725" dy="14">几年来点点滴滴的故事、点点滴滴的教学科研</tspan><tspan x="725" dy="14">工作做一个深情的回顾和反思。</tspan></text></g>
<g class="n" id="m1"><rect x="844" y="1869" width="105" height="26" rx="5"/><text x="850" y="1886">1、理论强化导航向</text></g>
<g class="n" id="n1"><rect x="594" y="1553" width="229" height="208" rx="5"/><text x="600" y="1570"><tspan x="600">“问渠哪得清如许，为有源头活水来”，教师如</tspan><tspan x="600" dy="14">果不学习，教研活动就会成本“无本之木，无</tspan><tspan x="600" dy="14">源之水”。为加强修养，提高素质，我在语文</tspan><tspan x="600" dy="14">组制定了适合语文教学的理论学习计划，首先</tspan><tspan x="600" dy="14">组织本组教师认真学习《中国教育和改革发展</tspan><tspan x="600" dy="14">纲要》等一系列教育法规，学习了《走进新课</tspan><tspan x="600" dy="14">程》《语文课程标准》《派往明天的教师》《</tspan><tspan x="600" dy="14">课程教材教法》《课堂教学设计操作》，还有</tspan><tspan x="600" dy="14">魏书生、欧阳代娜、李镇西、杨初春等一系列</tspan><tspan x="600" dy="14">语文教育专家的经典著作，提供广阔的视角，</tspan><tspan x="600" dy="14">以最大限度地转变教师的教育观念，改变传统</tspan><tspan x="600" dy="14">的教学模式，力求用先进的教育理念支撑深化</tspan><tspan x="600" dy="14">我校的语文教育改革，发挥语文在教改中的龙</tspan><tspan x="600" dy="14">头作用。</tspan></text></g>
<g class="n" id="n2"><rect x="594" y="1784" width="229" height="166" rx="5"/><text x="600" y="1801"><tspan x="600">学习讨论活动力求切实有效，学习后要求各位</tspan><tspan x="600" dy="14">教师写出读书笔记和心得体会并予以交流展出</tspan><tspan x="600" dy="14">，使教师们把新课标的理念渗透到教学中，教</tspan><tspan x="600" dy="14">学注重以培养学生的合作交流意识和实践创新</tspan><tspan x="600" dy="14">能力为主，注重尊重学生的需要。其次鼓励老</tspan><tspan x="600" dy="14">师们采取多阅读、多反思、多执笔的方法，不</tspan><tspan x="600" dy="14">断促进对课程改革实质内容的`进一步领悟，</tspan><tspan x="600" dy="14">利用好学校的网络资源，经常上网浏览、查阅</tspan><tspan x="600" dy="14">相关的材料，及时了解课改动态，扩大自身的</tspan><tspan x="600" dy="14">视野，通过多渠道多方位地提高自身的理论素</tspan><tspan x="600" dy="14">养，以便更好服务于课改实践。</tspan></text></g>
<g class="n" id="n3"><rect x="594" y="1974" width="229" height="264" rx="5"/><text x="600" y="1991"><tspan x="600">20_年春期的第6周我还组织了全体组员共同</tspan><tspan x="600" dy="14">学习如何在网上搜索资料（包括各类文件、教</tspan><tspan x="600" dy="14">案、课件等等），如何下载相关资源，如何将</tspan><tspan x="600" dy="14">压缩的文件进行解压，从实质上加强了对信息</tspan><tspan x="600" dy="14">的收集与处理的能力。另外还组织参加课题研</tspan><tspan x="600" dy="14">究的老师结合各自研究的课题领域，进行相关</tspan><tspan x="600" dy="14">的理论学习和研究，提高了教师们的课堂教学</tspan><tspan x="600" dy="14">策略、教学评价的能力。善学才能善研，善研</tspan><tspan x="600" dy="14">才能善教，已成为全组教师的共识，不光如此</tspan><tspan x="600" dy="14">，我们还注意用教学理论指导教学实践，认真</tspan><tspan x="600" dy="14">撰写论文。几年来，语文教研组每年都有论文</tspan><tspan x="600" dy="14">获奖，每年都有论文在刊物上发表。在我的鼓</tspan><tspan x="600" dy="14">励和带动下，教师们认真总结教学经验予以提</tspan><tspan x="600" dy="14">升，在此基础上积极参加各类比赛和向各级各</tspan><tspan x="600" dy="14">类杂志投稿，努力提高自己的理论水平，如今</tspan><tspan x="600" dy="14">，语文教研组已成为东城最具活力的教研组，</tspan><tspan x="600" dy="14">成为了学校教研教改的一道亮丽的风景线和窗</tspan><tspan x="600" dy="14">口。</tspan></text></g>
<g class="n" id="m2"><rect x="844" y="2678" width="105" height="26" rx="5"/><text x="850" y="2695">2、常规管理抓落实</text></g>
<g class="n" id="o"><rect x="594" y="2657" width="229" height="68" rx="5"/><text x="600" y="2674"><tspan x="600">我们坚持教研与教学同步，为教学服务，两者</tspan><tspan x="600" dy="14">有机结合，和谐统一。为了改革课堂结构和教</tspan><tspan x="600" dy="14">学方法，提高教师的课堂教学水平，提高课堂</tspan><tspan x="600" dy="14">教学效益，重点抓“四坚持”：</tspan></text></g>
<g class="n" id="p1"><rect x="345" y="2262" width="229" height="320" rx="5"/><text x="351" y="2279"><tspan x="351">（1）坚持每周星期三下午的集体教研制度，</tspan><tspan x="351" dy="14">这是交流经验、提高认识的一个大好机会，我</tspan><tspan x="351" dy="14">们教研组有效地运用这宝贵的一个多小时，真</tspan><tspan x="351" dy="14">正发挥了它的作用，围绕新的课程改革，结合</tspan><tspan x="351" dy="14">课题实验或教材、课标进行集体备课，观看录</tspan><tspan x="351" dy="14">像，进行课堂教学、课时设计，在活动中带领</tspan><tspan x="351" dy="14">教师学习新大纲，了解新教材，为自己今后的</tspan><tspan x="351" dy="14">教学指路。在教导处的指导下，我们积极开展</tspan><tspan x="351" dy="14">了教研活动，实行单元集体备课。在集体备课</tspan><tspan x="351" dy="14">中实行了“三个统一”：统一进度，统一要求，</tspan><tspan x="351" dy="14">统一内容。每单元先由主备人说课，提出授课</tspan><tspan x="351" dy="14">方案，其他人共同讨论，最后形成统一要求，</tspan><tspan x="351" dy="14">说课人整理出授课思路。这样集思广益，取长</tspan><tspan x="351" dy="14">补短，效果明显。集体备课备单元的教学目标</tspan><tspan x="351" dy="14">、重点、难点，备教材的前后联系，备突出重</tspan><tspan x="351" dy="14">点、突破难点的措施，备本单元学生应掌握的</tspan><tspan x="351" dy="14">解题规律、方法、技巧，做到了“六有”（有计</tspan><tspan x="351" dy="14">划、有时间、有准备、有问题、有中心发言人</tspan><tspan x="351" dy="14">、有记录）。为此本人曾在学校大会上作典型</tspan><tspan x="351" dy="14">发言，受到一致好评。在集体备课共同研究的</tspan><tspan x="351" dy="14">基础上，本组每期推出的三节以上的校级公开</tspan><tspan x="351" dy="14">课。</tspan></text></g>
<g class="n" id="p2"><rect x="345" y="2605" width="229" height="110" rx="5"/><text x="351" y="2622"><tspan x="351">（2）坚持每年一次的教师赛课制度。初出茅</tspan><tspan x="351" dy="14">庐的新教师的亮相课，通过体现教研课题思路</tspan><tspan x="351" dy="14">，展示研究成果的专题汇报课；体现集体智慧</tspan><tspan x="351" dy="14">和青年教师改革意识的“创新课”；体现以老带</tspan><tspan x="351" dy="14">新，辐射经验的“示范课”等活动，推动教师围</tspan><tspan x="351" dy="14">绕科研课题，勤于学习，善于进取，勇于实践</tspan><tspan x="351" dy="14">，不断总结，从而开掘学校教育科研的深度。</tspan></text></g>
<g class="n" id="p3"><rect x="345" y="2738" width="229" height="166" rx="5"/><text x="351" y="2755"><tspan x="351">（3）坚持听评课制度。各位老师除自己钻研</tspan><tspan x="351" dy="14">业务外，还注重相互学习，相互听课，有的教</tspan><tspan x="351" dy="14">师听课节数一期竟达50多节，平均也在20节</tspan><tspan x="351" dy="14">左右，通过听课、评课，对诸如教学内容安排</tspan><tspan x="351" dy="14">否恰当，难点是否突破，教法是否得当，教学</tspan><tspan x="351" dy="14">手段的使用，教学思想、方法的渗透，是否符</tspan><tspan x="351" dy="14">合素质教育的要求，老师的教学基本功等方面</tspan><tspan x="351" dy="14">进行中肯，全面的评论、探讨，在教学研究上</tspan><tspan x="351" dy="14">与教师进行具体磋商和指导，指出成功与不足</tspan><tspan x="351" dy="14">之处，提出努力的方向，研究对策，很好地提</tspan><tspan x="351" dy="14">高了课堂效率，提高教师的教学研究能力。</tspan></text></g>
<g class="n" id="p4"><rect x="345" y="2928" width="229" height="68" rx="5"/><text x="351" y="2945"><tspan x="351">（4）坚持期初计划、期末总结制度。学期初</tspan><tspan x="351" dy="14">，根据学校工作方案，制定教研组计划，期末</tspan><tspan x="351" dy="14">要认真总结教研教改的情况，做好总结工作，</tspan><tspan x="351" dy="14">要求人人撰写经验总结或论文。</tspan></text></g>
<g class="n" id="m3"><rect x="844" y="3407" width="105" height="26" rx="5"/><text x="850" y="3424">3、社团活动见特色</text></g>
<g class="n" id="q1"><rect x="594" y="3018" width="229" height="348" rx="5"/><text x="600" y="3035"><tspan x="600">配合语文教学针对初中学生水平参差不齐的特</tspan><tspan x="600" dy="14">点，本着“能力创新特色”的原则，我们语文教</tspan><tspan x="600" dy="14">研组组织了各种形式的语文活动，激发学生对</tspan><tspan x="600" dy="14">语文学习的兴趣，如为扩大学生的阅读面，2</tspan><tspan x="600" dy="14">0__年语文组成立了“学生读书会”，拥有社员</tspan><tspan x="600" dy="14">达500人，捐书购书2万余册，各班也成立了</tspan><tspan x="600" dy="14">小小图书馆，自带书籍互相传阅，解决学校图</tspan><tspan x="600" dy="14">书不足的问题；为了培养学生的写作兴趣，营</tspan><tspan x="600" dy="14">造良好和谐的校园文化氛围，培养一大批文学</tspan><tspan x="600" dy="14">爱好者，提升东城中学素质教育的水平，20_</tspan><tspan x="600" dy="14">_年1月，在学校领导的关怀下，作为语文教</tspan><tspan x="600" dy="14">研组长的我亲任社长，创建了东城中学有史以</tspan><tspan x="600" dy="14">来第一个文学社团——扬帆文学社，出版社</tspan><tspan x="600" dy="14">刊《扬帆》，每学期出两期，极大地调动了广</tspan><tspan x="600" dy="14">大学生的写作热情，深受广大师生的欢迎，在</tspan><tspan x="600" dy="14">校内外具有良好而广泛的影响，至今已出版1</tspan><tspan x="600" dy="14">0期，该刊参加20__年“首届全国中小学校内</tspan><tspan x="600" dy="14">报刊评选活动”被评为最佳社团刊奖一等奖；</tspan><tspan x="600" dy="14">此外每年都要组织一次大型的作文竞赛活动和</tspan><tspan x="600" dy="14">读书征文活动，大大提高了学校素质教育的整</tspan><tspan x="600" dy="14">体水平；为提高书写能力，有的班级组织了书</tspan><tspan x="600" dy="14">法比赛。还精心组织了全校性的普通话比赛，</tspan><tspan x="600" dy="14">演讲比赛，读书交流会等，都锻炼了学生的创</tspan><tspan x="600" dy="14">新精神和实践能力，有力地促进了语文教学。</tspan></text></g>
<g class="n" id="q2"><rect x="730" y="3390" width="93" height="26" rx="5"/><text x="736" y="3407">4一往无前再登攀</text></g>
<g class="n" id="q3"><rect x="594" y="3439" width="229" height="96" rx="5"/><text x="600" y="3456"><tspan x="600">我常常叩问自己：你给了孩子们怎样的教育？</tspan><tspan x="600" dy="14">你给了孩子们什么样的课堂？你以怎样的方式</tspan><tspan x="600" dy="14">在影响着他们？你是否带着他们走好了人生的</tspan><tspan x="600" dy="14">第一步？……熟悉我的老师都说我是在追求着</tspan><tspan x="600" dy="14">教育的极致，是在追寻着一个遥不可及的教育</tspan><tspan x="600" dy="14">理想。</tspan></text></g>
<g class="n" id="q4"><rect x="594" y="3557" width="229" height="54" rx="5"/><text x="600" y="3574"><tspan x="600">教育，是我生命里永远的牵挂！身后的印迹必</tspan><tspan x="600" dy="14">定还在不断延伸，在未来的生命历程中我会以</tspan><tspan x="600" dy="14">“陀山鹦鹉，入水濡羽”的情怀执着我的追求。</tspan></text></g>
<g class="n" id="q5"><rect x="649" y="3633" width="174" height="26" rx="5"/><text x="655" y="3650">用自己的青春谱写着辉煌的篇章!</text></g>
</svg>
